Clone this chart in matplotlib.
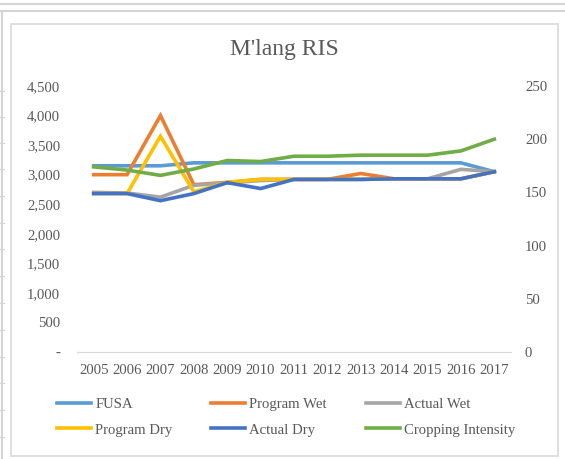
import matplotlib
matplotlib.use("Agg")
import matplotlib.pyplot as plt
from matplotlib.lines import Line2D
from matplotlib.patches import Rectangle
from matplotlib.ticker import FuncFormatter

plt.rcParams['font.family'] = ['Liberation Serif', 'DejaVu Serif']

# Datos del sistema de riego
anios = ["2005", "2006", "2007", "2008", "2009", "2010", "2011",
         "2012", "2013", "2014", "2015", "2016", "2017"]
fusa = [3150, 3150, 3150, 3200, 3200, 3200, 3200, 3200, 3200, 3200, 3200, 3200, 3050]
programWet = [3000, 3000, 4000, 2830, 2870, 2920, 2920, 2920, 3020, 2930, 2930, 2930, 3050]
actualWet = [2700, 2690, 2620, 2820, 2860, 2900, 2920, 2920, 2920, 2930, 2930, 3090, 3050]
programDry = [2680, 2680, 3650, 2710, 2870, 2920, 2920, 2920, 2920, 2930, 2930, 2930, 3050]
actualDry = [2680, 2680, 2560, 2680, 2865, 2765, 2920, 2920, 2920, 2930, 2930, 2930, 3050]
croppingIntensity = [174, 171, 166, 172, 180, 179, 184, 184, 185, 185, 185, 189, 200]

W, H = 565, 459
gris = "#595959"

fig = plt.figure(figsize=(W / 100, H / 100), dpi=100)


def px(x, y):
    return x / W, 1 - y / H


# Lineas de la hoja de calculo alrededor del grafico
lineaCol = "#d4d4d4"
fig.add_artist(Line2D([0, 1], [1 - 3.5 / H, 1 - 3.5 / H], color=lineaCol, lw=1.5, transform=fig.transFigure))
fig.add_artist(Line2D([0, 1], [1 - 10.5 / H, 1 - 10.5 / H], color=lineaCol, lw=1.5, transform=fig.transFigure))
fig.add_artist(Line2D([2 / W, 2 / W], [0, 1 - 10.5 / H], color=lineaCol, lw=1.5, transform=fig.transFigure))
for yFila in [90.7, 116.7, 142.7, 169, 196, 222.7, 249, 276, 303, 330, 356.7, 383, 410, 437]:
    fig.add_artist(Line2D([0, 4 / W], [1 - yFila / H, 1 - yFila / H], color=lineaCol, lw=0.8,
                          transform=fig.transFigure))

# Borde del area del grafico
x0, y0 = px(10.5, 456)
x1, y1 = px(557.5, 24)
fig.add_artist(Rectangle((x0, y0), x1 - x0, y1 - y0, fill=False, edgecolor="#d9d9d9", lw=1.2,
                         transform=fig.transFigure))

izq, der, arriba, abajo = 77, 511, 86, 352
ax = fig.add_axes([izq / W, 1 - abajo / H, (der - izq) / W, (abajo - arriba) / H])
ax2 = ax.twinx()

x = list(range(len(anios)))
lw = 2.6
series = [
    (fusa, "#5B9BD5", "FUSA"),
    (programWet, "#ED7D31", "Program Wet"),
    (actualWet, "#A5A5A5", "Actual Wet"),
    (programDry, "#FFC000", "Program Dry"),
    (actualDry, "#4472C4", "Actual Dry"),
]
lineas = {}
for valores, color, nombre in series:
    l, = ax.plot(x, valores, color=color, lw=lw, solid_joinstyle="miter", label=nombre)
    lineas[nombre] = l
l, = ax2.plot(x, croppingIntensity, color="#70AD47", lw=lw, solid_joinstyle="miter",
              label="Cropping Intensity")
lineas["Cropping Intensity"] = l

ax.set_xlim(-0.5, len(anios) - 0.5)
ax.set_ylim(0, 4500)
ax2.set_ylim(0, 250)
ax.set_yticks(range(0, 4501, 500))
ax2.set_yticks(range(0, 251, 50))
ax.yaxis.set_major_formatter(FuncFormatter(lambda v, p: "-" if v == 0 else f"{int(v):,}"))
ax.set_xticks(x)
ax.set_xticklabels(anios)

for a in (ax, ax2):
    for s in ["top", "left", "right"]:
        a.spines[s].set_visible(False)
    a.spines["bottom"].set_color("#d9d9d9")
    a.spines["bottom"].set_linewidth(0.8)
    a.tick_params(length=0, labelsize=10.6, labelcolor=gris)
ax.tick_params(axis="y", pad=12)
ax2.tick_params(axis="y", pad=10)
ax.tick_params(axis="x", pad=9)
ax.patch.set_visible(False)

fig.text(284 / W, 1 - 50 / H, "M'lang RIS", ha="center", va="center", fontsize=17, color=gris)

# Leyenda en tres columnas de igual ancho
columnas = [(57, ["FUSA", "Program Dry"]),
            (211, ["Program Wet", "Actual Dry"]),
            (366, ["Actual Wet", "Cropping Intensity"])]
for xCol, nombres in columnas:
    fig.legend([lineas[n] for n in nombres], nombres, loc="center left",
               bbox_to_anchor=px(xCol, 417), frameon=False, fontsize=10.6,
               labelcolor=gris, handlelength=2.3, handletextpad=0.3,
               borderpad=0, borderaxespad=0, labelspacing=0.85)

fig.savefig("out.png", dpi=100)
